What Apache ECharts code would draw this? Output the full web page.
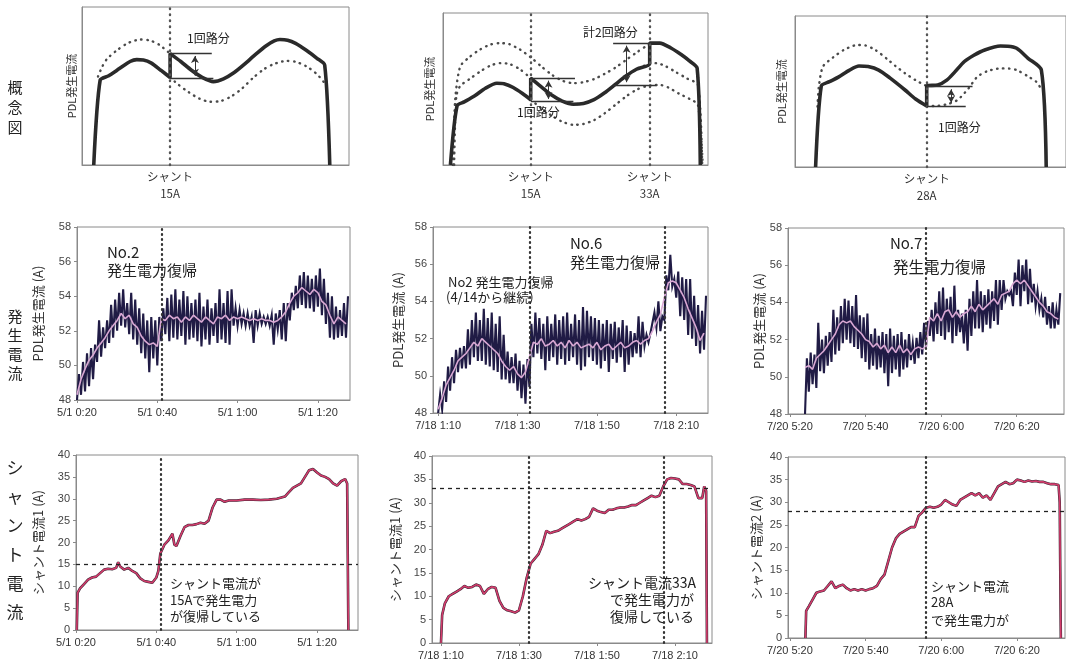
<!DOCTYPE html>
<html><head><meta charset="utf-8">
<script src="https://cdn.jsdelivr.net/npm/echarts@6/dist/echarts.min.js"></script>
<style>html,body{margin:0;padding:0;background:#ffffff}#c{width:1066px;height:664px}</style>
</head><body><div id="c"></div>
<script>
// ---------- concept diagrams (relative units 0..100) ----------
const c1Solid = [[4.4,0],[6.8,53.7],[10,56.5],[14,61],[18,65.5],[20.5,66.7],[23,66.5],[26,64.5],[29.5,60],[33,55.4],[33,70.5],[37,65.5],[41,60],[45,55.5],[49.2,52.8],[53,54.5],[57,58.5],[61,64],[65,70],[69,75.5],[72,78.5],[74.1,79.4],[77,79],[80,77],[84,72.6],[88,67.5],[90.9,63.2],[92.8,0]];
const c1DotUpper = [[6,56],[7.5,62],[9.3,67],[13,72.5],[17,77],[21.8,79.4],[25.5,78.8],[29,76],[33,70.5]];
const c1DotLower = [[33,55.4],[36,51],[40,46],[44,42],[48,40],[52,40.5],[56,43.5],[60,48.5],[64,55],[68,60.5],[72,64],[76.6,65.9],[80,65.3],[84,62.5],[88,57.5],[91,51.6]];
const c1Steps = [[[33,70.5],[48.6,70.5]],[[33,54.7],[49.2,54.7]]];
const c1Arrows = [[[42.3,56.5],[42.3,69]]];
const c1Shunt = [33];
const c1ShuntLabels = ['シャント\n15A'];

const c2Solid = [[2.8,0],[5.3,38.9],[8,41.5],[12,45.5],[16,50.5],[20.3,53.8],[23,53.5],[26.5,51],[30,47],[33.1,42.9],[33.1,57.1],[37,51.5],[41,46],[45,42],[49.2,40],[53,40.5],[57,43],[61,47.5],[65,53],[69,58.5],[73,63],[78,66.6],[78,80.2],[81.8,80.2],[86,77],[90,72.5],[93,68.5],[95.9,63.7],[97.1,0]];
const c2DotUpper = [[3.8,0],[4.6,42.9],[6.5,64.8],[10,71],[14,76],[18,79.3],[21.6,80.2],[25,79.5],[29,76],[33,71],[37,65],[41,59.5],[45,55.5],[49.2,53.8],[53,54.5],[57,56.5],[61,60],[65,64],[69,69],[73,74],[77,78.5],[79.3,80.2],[81.8,80.2],[86,77],[90,72.5],[93,68.5],[95.9,63.7],[97.6,0]];
const c2DotMiddle = [[4.2,0],[5,45],[6.5,52],[10,56.5],[14,61.5],[18,65.5],[21.6,67],[25,66.5],[29,63],[33.1,57.1],[37,51.5],[41,46],[45,42],[49.2,40],[53,40.5],[57,43],[61,47.5],[65,53],[69,58.5],[73,63],[78,66.6],[80.5,67],[84,65],[88,61],[92,57],[96.2,52.7],[97.8,0]];
const c2DotLower = [[33.1,42.9],[37,37.5],[41,32.5],[45,28.5],[49.2,26.4],[53,27],[57,29.5],[61,34],[65,39.5],[69,45],[73,49.5],[77,52],[81.8,52.7],[85,51],[89,47],[93,43.5],[96.2,39.6],[98,0]];
const c2Steps = [[[33.1,57.1],[49.8,57.1]],[[33.1,41.8],[49.2,41.8]],[[64.2,80.2],[78,80.2]],[[64.2,52.7],[80.5,52.7]]];
const c2Arrows = [[[39.8,43.5],[39.8,55.5]],[[69.3,54.5],[69.3,78.5]]];
const c2Shunt = [33.1, 78];
const c2ShuntLabels = ['シャント\n15A','シャント\n33A'];

const c3Solid = [[7.6,0],[9.7,53.6],[12.7,56.5],[16,59.5],[20,64],[23.6,66.9],[27,66.5],[30.9,64.2],[35,59],[40.6,51],[44.5,45],[48.6,40.4],[48.6,53.6],[52.7,54.3],[56,57.5],[59,63],[62.4,69.7],[66,74],[70,77.5],[75.8,80.1],[78.5,80],[81.8,78.6],[86,72],[90.9,64.2],[92.7,0]];
const c3DotUpper = [[8.3,40],[8.8,53.2],[10.3,66.5],[14,72.5],[18,77.5],[23,80.8],[26,80.5],[29.7,77.5],[34,71.5],[37,67],[40.6,62.1],[44.5,57.5],[48.6,53.6]];
const c3DotLower = [[48.6,40.4],[51.5,40.4],[56,41.5],[60,44.4],[64,52],[67.3,59.8],[71,63.5],[75.8,65.3],[79,65.2],[81.8,64.2],[86,60],[89,56.5],[90.9,51.6]];
const c3Steps = [[[48.6,53.6],[65.5,53.6]],[[48.6,40.4],[63,40.4]]];
const c3Arrows = [[[57.6,42.5],[57.6,51.5]]];
const c3Shunt = [48.6];
const c3ShuntLabels = ['シャント\n28A'];

// ---------- PDL generated current (minutes after 0:00) ----------
const p4Start = 20;
const p4Lo = [48.0,48.3,48.5,48.8,49.2,50.2,50.5,51.0,51.3,51.6,52.0,52.3,52.2,51.8,51.5,51.2,50.7,50.4,49.6,50.4,50.0,51.4,51.8,51.4,51.6,51.5,51.7,51.2,51.5,51.6,51.4,51.1,51.5,51.2,51.7,51.3,51.5,51.3,51.2,52.3,52.3,52.4,52.3,52.3,51.3,52.3,52.4,52.4,52.3,51.2,52.1,51.5,51.4,52.6,53.2,53.3,53.5,53.3,53.3,53.1,53.4,52.9,52.4,51.6,51.5,51.6,51.7,51.6];
const p4Hi = [49.5,50.2,50.7,51.0,51.2,52.6,52.2,52.6,53.5,53.8,54.2,54.4,53.6,54.2,53.8,53.3,53.0,52.6,52.8,52.6,52.8,53.3,53.9,54.1,54.4,53.8,54.3,54.0,53.6,53.8,54.2,53.4,53.8,53.3,53.6,54.4,53.6,54.3,54.4,53.3,53.2,53.0,53.0,52.8,53.2,53.0,52.8,52.8,52.9,53.0,53.2,53.6,53.6,54.2,54.6,55.2,55.4,55.2,55.0,55.2,55.6,55.0,54.2,54.0,53.4,53.2,53.6,54.0];
const p4Ma = [48.3,49.2,49.8,50.3,50.6,51.0,51.3,51.6,52.0,52.3,52.6,53.0,52.7,52.9,52.4,52.2,51.7,51.4,51.2,51.3,51.1,52.7,52.6,52.9,52.7,52.8,52.5,52.8,52.6,52.9,52.7,52.5,52.8,52.6,52.4,52.8,52.7,52.9,52.6,52.8,52.7,52.8,52.7,52.6,52.7,52.6,52.7,52.6,52.6,52.5,52.6,52.8,53.1,53.6,54.0,54.2,54.5,54.3,54.1,54.4,54.2,53.7,53.5,52.9,52.4,52.8,52.6,52.4];
const p4Marks = [41];
const p4Ticks = [20,40,60,80];
const p4Labels = ['5/1 0:20','5/1 0:40','5/1 1:00','5/1 1:20'];

const p5Start = 70;
const p5Lo = [48.0,48.2,48.6,49.2,49.6,50.2,50.4,50.4,50.6,51.0,50.8,50.8,50.6,50.5,50.3,50.2,49.8,49.8,49.6,49.6,49.2,48.8,48.5,49.4,51.0,51.2,50.9,50.3,50.8,51.0,50.6,50.9,50.6,50.8,51.0,50.6,50.3,50.5,51.0,50.8,50.6,50.4,50.8,50.2,50.9,50.7,51.0,50.2,50.6,51.0,51.2,51.0,51.6,51.8,52.2,52.6,52.4,53.0,54.6,54.8,54.2,53.2,53.0,52.2,52.0,51.6,51.2,51.4];
const p5Hi = [49.0,49.7,50.5,51.0,51.4,51.5,51.6,52.5,53.0,53.4,53.0,53.6,53.1,53.4,52.8,53.2,52.2,51.3,51.0,51.2,50.8,50.6,50.9,52.8,53.4,53.1,52.8,53.2,52.8,53.3,53.0,53.2,53.4,52.8,53.3,53.0,53.7,53.5,53.2,53.1,53.0,52.8,53.0,52.8,52.9,52.6,53.0,52.7,52.4,52.3,53.2,52.9,52.2,52.3,53.4,54.0,53.2,55.4,56.5,55.2,55.6,55.3,55.2,55.2,54.3,53.8,53.5,54.3];
const p5Ma = [48.2,48.8,49.5,49.9,50.3,50.8,51.0,51.2,51.5,51.8,51.6,52.0,51.8,51.6,51.4,51.2,50.8,50.5,50.3,50.5,50.1,49.9,50.2,51.0,51.8,51.7,52.0,51.6,51.7,51.9,51.6,51.8,51.5,51.9,51.6,51.8,51.5,51.6,51.7,51.5,51.8,51.4,51.6,51.7,51.4,51.6,51.8,51.5,51.6,51.8,51.9,51.7,51.9,52.0,52.4,52.9,53.3,54.2,55.0,55.1,55.0,54.6,54.2,53.6,53.1,52.6,51.9,52.3];
const p5Marks = [93, 127];
const p5Ticks = [70,90,110,130];
const p5Labels = ['7/18 1:10','7/18 1:30','7/18 1:50','7/18 2:10'];

const p6Start = 324;
const p6Lo = [48.0,49.2,49.6,49.4,50.3,50.2,50.6,50.8,51.2,51.4,51.8,52.0,51.8,51.6,51.5,51.0,50.8,50.4,50.6,50.4,50.5,50.2,49.5,50.2,50.4,50.0,50.4,50.5,50.9,50.7,51.0,51.2,51.6,52.2,51.9,52.3,52.2,52.0,52.4,51.8,52.2,52.4,51.8,51.4,52.2,52.6,52.6,52.4,52.8,52.6,53.0,52.8,53.6,54.2,54.4,53.8,54.4,53.8,54.6,53.9,54.0,53.8,53.6,53.2,52.8,52.6,52.6,52.8];
const p6Hi = [51.0,51.3,51.2,52.9,52.0,52.2,52.4,53.6,53.2,53.8,54.2,54.1,53.8,54.4,53.3,53.2,53.4,52.3,52.6,52.2,52.4,52.3,52.6,52.2,52.3,52.4,52.0,52.3,51.8,52.1,52.4,52.9,53.0,53.6,54.0,54.6,54.8,54.2,54.3,54.9,53.6,53.4,53.6,54.2,54.6,55.2,54.6,54.4,54.7,54.6,55.2,55.2,55.2,54.6,54.6,55.6,56.3,56.0,56.3,55.8,55.0,54.6,54.2,54.3,53.8,54.0,53.6,54.5];
const p6Ma = [50.5,50.6,50.4,51.0,51.2,51.4,51.7,52.0,52.3,52.8,53.0,52.9,53.0,52.7,52.5,52.3,52.0,51.9,51.6,51.8,51.5,51.7,51.3,51.6,51.3,51.7,51.3,51.5,51.2,51.5,51.6,51.5,51.6,53.2,53.0,53.4,53.0,53.5,53.6,53.2,53.5,53.2,53.4,53.5,53.8,53.5,53.9,53.6,53.8,54.0,54.2,53.9,54.4,54.5,54.6,55.0,55.2,55.0,55.2,54.9,54.6,54.3,54.0,53.8,53.5,53.4,53.2,53.1];
const p6Marks = [356];
const p6Ticks = [320,340,360,380];
const p6Labels = ['7/20 5:20','7/20 5:40','7/20 6:00','7/20 6:20'];

// ---------- shunt current [minute, A] ----------
const s7 = [[20.2,0],[20.4,8.5],[21,9.5],[22,10.5],[23,11.5],[24,12],[25,12.2],[26,13],[27,13.8],[28,14],[29,13.9],[30,14.2],[30.5,15.5],[31,14.5],[32,13.8],[33,14.2],[34,13.5],[35,13],[36,11.8],[37,11.2],[38,11],[39,10.8],[40,12],[40.5,13.5],[41,17.5],[42,19.5],[43,20.5],[44,22],[44.5,19.5],[45,19.2],[46,21.5],[47,23.5],[48,24],[49,24],[50,24.2],[51,24.5],[52,24.3],[53,25],[54,28],[55,29.8],[56,29.8],[57,29.3],[58,29.6],[60,29.6],[62,29.8],[64,29.8],[66,29.7],[68,29.8],[70,30],[72,30.5],[73,31.5],[74,32.5],[75,33],[76,33.5],[77,35],[78,36.5],[79,36.8],[80,36],[81,35.3],[82,35],[83,34.5],[84,33.5],[85,33],[86,34],[87,34.5],[87.5,33.5],[87.8,0]];
const s7Level = 15;
const s7Marks = [41];

const s8 = [[70,0],[70.3,6],[71,8.5],[72,10],[73,10.5],[74,11],[75,11.5],[76,12.2],[77,11.8],[78,12],[79,12.5],[80,12.2],[81,10.5],[82,11.5],[83,12],[84,11.8],[85,9],[86,7.5],[87,7],[88,6.8],[89,6.5],[90,7],[91,10],[92,14],[93,17],[94,18],[95,19],[96,21],[97,24],[98,23.5],[99,23.8],[100,24],[101,24.5],[102,25],[103,25.5],[104,26],[105,26.5],[106,26.2],[107,26.5],[108,27],[109,28.8],[110,28.3],[111,28],[112,27.8],[113,28.5],[114,28.5],[115,28.8],[116,29],[117,29],[118,29.2],[119,29.5],[120,29.5],[121,30],[122,30.5],[123,31],[124,31.5],[125,31.2],[126,31.5],[127,33.5],[128,35],[129,35.3],[130,35.2],[131,35],[132,34],[133,34],[134,33.8],[135,33.5],[136,31],[137,31],[137.5,33.5],[138,32.5],[138.2,0]];
const s8Level = 33;
const s8Marks = [92.5, 127];

const s9 = [[324.1,0],[324.3,6],[325,7],[326,8.5],[327,10],[328,10.3],[329,10.5],[330,11.5],[331,12.5],[332,11],[333,11.5],[334,11.8],[335,11],[336,10.5],[337,10.8],[338,10.5],[339,10.8],[340,10.5],[341,10.8],[342,11],[343,11.5],[344,13],[345,14],[346,17],[347,20],[348,22],[349,23],[350,23.5],[351,24],[352,24.5],[353,24.5],[354,27],[355,27.8],[356,28.8],[357,29],[358,28.8],[359,29],[360,29.5],[361,30.5],[362,30],[363,29.5],[364,29.2],[365,30.5],[366,31],[367,31.5],[368,32],[369,31.5],[370,32],[371,31],[372,31.5],[373,30.5],[374,32],[375,33.5],[376,34],[377,34.5],[378,34],[379,34.2],[380,35],[381,34.8],[382,34.5],[383,34.8],[384,34.6],[385,34.7],[386,34.5],[387,34.5],[388,34.2],[389,34],[390,34],[391,33.8],[391.3,30],[391.6,0]];
const s9Level = 28;
const s9Marks = [356];

// ---------- build ----------
const JP = '"Noto Sans CJK JP", "Noto Sans", sans-serif';
const NUM = '"Liberation Sans", Arial, sans-serif';
const BOX = '#8a8a8a';
const INK = '#2a2a2a';
const DOTS = [0.5, 5.5];

const gridBoxes = [
  [82,7,267,158],[443,13,265,152],[795,16,275,151],
  [77,227,273,173],[433,227,275,186],[788,228,276,186],
  [76,455,282,175],[432,456,280,187],[788,457,277,181]
];
const grid = gridBoxes.map(b => ({show:true, borderColor:BOX, borderWidth:1, left:b[0], top:b[1], width:b[2], height:b[3]}));

function fmt(ticks, labels){ return v => { for (let i=0;i<ticks.length;i++){ if (Math.abs(ticks[i]-v)<1e-6) return labels[i]; } return ''; }; }

function xAx(gi, min, max, ticks, labels, o){
  o = o || {};
  return {type:'value', gridIndex:gi, min:min, max:max,
    splitLine:{show:false},
    axisLine:{show:true, onZero:false, lineStyle:{color:BOX}},
    axisTick:{show:!!o.tick, customValues:ticks, length:3, lineStyle:{color:BOX}},
    axisLabel:{customValues:ticks, formatter:fmt(ticks,labels), fontSize:o.fs||11, lineHeight:o.lh||13,
      fontFamily:o.ff||NUM, color:'#333', margin:(o.margin!=null?o.margin:6)}};
}
function yConcept(gi, gap){
  return {type:'value', gridIndex:gi, min:0, max:100, splitLine:{show:false},
    axisLine:{show:true, onZero:false, lineStyle:{color:BOX}}, axisTick:{show:false}, axisLabel:{show:false},
    name:'PDL発生電流', nameLocation:'middle', nameGap:gap,
    nameTextStyle:{fontFamily:JP, fontSize:11, color:'#333'}};
}
function yVal(gi, min, max, interval, name, gap){
  return {type:'value', gridIndex:gi, min:min, max:max, interval:interval, splitLine:{show:false},
    axisLine:{show:true, onZero:false, lineStyle:{color:BOX}},
    axisTick:{show:true, length:3, lineStyle:{color:BOX}},
    axisLabel:{fontSize:11, fontFamily:NUM, color:'#444', margin:6},
    name:name, nameLocation:'middle', nameGap:gap,
    nameTextStyle:{fontFamily:JP, fontSize:13, color:'#333'}};
}

const xAxis = [
  xAx(0,0,100,c1Shunt,c1ShuntLabels,{ff:JP,fs:11.5,lh:17,margin:3}),
  xAx(1,0,100,c2Shunt,c2ShuntLabels,{ff:JP,fs:11.5,lh:17,margin:3}),
  xAx(2,0,100,c3Shunt,c3ShuntLabels,{ff:JP,fs:11.5,lh:17,margin:3}),
  xAx(3,20,88,p4Ticks,p4Labels,{tick:true}),
  xAx(4,68.7,138,p5Ticks,p5Labels,{tick:true}),
  xAx(5,319.5,392.5,p6Ticks,p6Labels,{tick:true}),
  xAx(6,20,90.2,p4Ticks,p4Labels,{tick:true}),
  xAx(7,67.7,139.5,p5Ticks,p5Labels,{tick:true}),
  xAx(8,319.5,392.7,p6Ticks,p6Labels,{tick:true})
];
const yAxis = [
  yConcept(0,5), yConcept(1,8), yConcept(2,8),
  yVal(3,48,58,2,'PDL発生電流 (A)',32),
  yVal(4,48,58,2,'PDL発生電流 (A)',28),
  yVal(5,48,58,2,'PDL発生電流 (A)',21),
  yVal(6,0,40,5,'シャント電流1 (A)',31),
  yVal(7,0,40,5,'シャント電流1 (A)',30),
  yVal(8,0,40,5,'シャント電流2 (A)',25)
];

const series = [];
function vDotted(xs){ return xs.map(x => ({xAxis:x})); }
function conceptPanel(i, solid, dots, shunt, steps, arrows){
  dots.forEach(d => series.push({type:'line', xAxisIndex:i, yAxisIndex:i, data:d, showSymbol:false, silent:true,
    smooth:0.25, lineStyle:{color:'#4a4a4a', width:2.4, type:DOTS, cap:'round'}, z:2}));
  const ml = [];
  shunt.forEach(x => ml.push({xAxis:x, lineStyle:{type:DOTS, width:2.4, color:'#555', cap:'round'}}));
  steps.forEach(s => ml.push([{coord:s[0]},{coord:s[1], lineStyle:{type:'solid', width:1.3, color:'#333'}}]));
  arrows.forEach(a => ml.push([{coord:a[0], symbol:'arrow', symbolSize:[6,7]},{coord:a[1], symbol:'arrow', symbolSize:[6,7], lineStyle:{type:'solid', width:1, color:'#333'}}]));
  series.push({type:'line', xAxisIndex:i, yAxisIndex:i, data:solid, showSymbol:false, silent:true,
    smooth:0.25, lineStyle:{color:INK, width:3.6}, z:3,
    markLine:{silent:true, symbol:['none','none'], label:{show:false}, animation:false,
      lineStyle:{color:'#333', width:1.3, type:'solid'}, data:ml}});
}
conceptPanel(0, c1Solid, [c1DotUpper, c1DotLower], c1Shunt, c1Steps, c1Arrows);
conceptPanel(1, c2Solid, [c2DotUpper, c2DotMiddle, c2DotLower], c2Shunt, c2Steps, c2Arrows);
conceptPanel(2, c3Solid, [c3DotUpper, c3DotLower], c3Shunt, c3Steps, c3Arrows);

function pdlPanel(i, start, lo, hi, ma, marks){
  const raw = [];
  for (let k=0;k<lo.length;k++){ raw.push([start+k, lo[k]]); raw.push([start+k+0.5, hi[k]]); }
  const avg = ma.map((v,k) => [start+k, v]);
  series.push({type:'line', xAxisIndex:i, yAxisIndex:i, data:raw, showSymbol:false, silent:true,
    lineStyle:{color:'#201b45', width:2.1, join:'miter'}, z:2,
    markLine:{silent:true, symbol:['none','none'], label:{show:false}, animation:false,
      lineStyle:{type:[1,4], width:2.2, color:'#333', cap:'round'}, data:vDotted(marks)}});
  series.push({type:'line', xAxisIndex:i, yAxisIndex:i, data:avg, showSymbol:false, silent:true,
    lineStyle:{color:'#d9a8d4', width:1.6}, z:3});
}
pdlPanel(3, p4Start, p4Lo, p4Hi, p4Ma, p4Marks);
pdlPanel(4, p5Start, p5Lo, p5Hi, p5Ma, p5Marks);
pdlPanel(5, p6Start, p6Lo, p6Hi, p6Ma, p6Marks);

function shuntPanel(i, data, level, marks){
  const ml = vDotted(marks).map(m => Object.assign(m, {lineStyle:{type:[1,4], width:2.2, color:'#333', cap:'round'}}));
  ml.push({yAxis:level, lineStyle:{type:[4,4], width:1.3, color:'#222'}});
  series.push({type:'line', xAxisIndex:i, yAxisIndex:i, data:data, showSymbol:false, silent:true,
    lineStyle:{color:'#3a2533', width:2.6}, z:2,
    markLine:{silent:true, symbol:['none','none'], label:{show:false}, animation:false, data:ml}});
  series.push({type:'line', xAxisIndex:i, yAxisIndex:i, data:data, showSymbol:false, silent:true,
    lineStyle:{color:'#d23c6c', width:1.6}, z:3});
}
shuntPanel(6, s7, s7Level, s7Marks);
shuntPanel(7, s8, s8Level, s8Marks);
shuntPanel(8, s9, s9Level, s9Marks);

function txt(x, y, text, size, align, extra){
  return Object.assign({type:'text', x:x, y:y, silent:true, z:10,
    style:Object.assign({text:text, fill:'#222', font:size+'px '+JP,
      textAlign:align||'left', align:align||'left', textVerticalAlign:'middle', verticalAlign:'middle'}, extra||{})});
}
const graphic = [
  txt(15,107,'概\n念\n図',15,'center',{lineHeight:20}),
  txt(15,345,'発\n生\n電\n流',15,'center',{lineHeight:19}),
  txt(15,540,'シ\nャ\nン\nト\n電\n流',17,'center',{lineHeight:29}),
  txt(187,38,'1回路分',12),
  txt(517,112,'1回路分',12),
  txt(583,32,'計2回路分',12),
  txt(938,127,'1回路分',12),
  txt(107,252,'No.2',15),
  txt(107,270,'発生電力復帰',15),
  txt(448,282,'No2 発生電力復帰',13),
  txt(446,297,'(4/14から継続)',13),
  txt(570,243,'No.6',15),
  txt(570,262,'発生電力復帰',15),
  txt(890,243,'No.7',15),
  txt(893,267,'発生電力復帰',15.5),
  txt(170,583,'シャント電流が',13),
  txt(170,600,'15Aで発生電力',13),
  txt(170,616,'が復帰している',13),
  txt(696,583,'シャント電流33A',14,'right'),
  txt(694,600,'で発生電力が',14,'right'),
  txt(694,617,'復帰している',14,'right'),
  txt(931,586,'シャント電流',13),
  txt(931,602,'28A',13),
  txt(931,620,'で発生電力が',13)
];

const chart = echarts.init(document.getElementById('c'), null, {renderer:'canvas'});
chart.setOption({
  backgroundColor:'#ffffff',
  animation:false,
  grid:grid, xAxis:xAxis, yAxis:yAxis, series:series, graphic:graphic
});
</script></body></html>
